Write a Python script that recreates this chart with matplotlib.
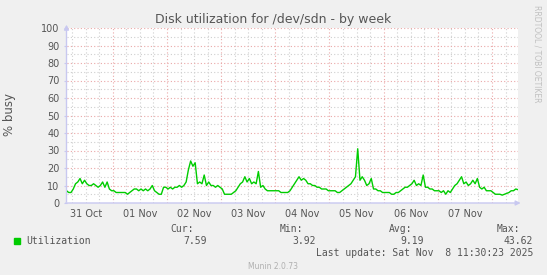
import matplotlib
matplotlib.use('Agg')
import matplotlib.pyplot as plt
import matplotlib.dates as mdates
import numpy as np
import pandas as pd

# hourly averages of disk utilization (%), 31 Oct 03:30 .. 08 Nov 11:30
oct31 = [7, 6, 6, 8, 11, 12, 14, 11, 13, 11, 10, 10, 11, 10, 9, 10, 12, 9, 12, 8, 7]
nov01 = [7, 6, 6, 6, 6, 6, 5, 6, 7, 8, 8, 7, 8, 7, 8, 7, 8, 10, 7, 6, 5, 5, 9, 9]
nov02 = [8, 9, 8, 9, 9, 10, 9, 10, 12, 19, 24, 21, 23, 11, 12, 11, 16, 10, 12, 10, 10, 9, 10, 9]
nov03 = [8, 5, 5, 5, 5, 6, 7, 9, 11, 12, 15, 12, 14, 11, 12, 11, 18, 9, 10, 8, 7, 7, 7, 7]
nov04 = [7, 7, 6, 6, 6, 6, 7, 9, 11, 13, 15, 13, 14, 13, 11, 11, 10, 10, 9, 9, 8, 8, 8, 7]
nov05 = [7, 7, 7, 6, 6, 7, 8, 9, 10, 11, 13, 15, 31, 13, 15, 13, 10, 11, 14, 8, 8, 7, 7, 6]
nov06 = [6, 6, 6, 5, 5, 6, 6, 7, 8, 9, 9, 10, 11, 13, 10, 11, 10, 16, 9, 9, 8, 8, 7, 7]
nov07 = [7, 6, 7, 5, 7, 6, 8, 10, 11, 13, 15, 11, 12, 10, 11, 13, 11, 14, 9, 8, 9, 7, 7, 7]
nov08 = [6, 5, 5, 5, 4.5, 5, 5.5, 6, 7, 7, 8, 7.6]

utilization = oct31 + nov01 + nov02 + nov03 + nov04 + nov05 + nov06 + nov07 + nov08
times = pd.date_range('2025-10-31 03:30', periods=len(utilization), freq='h')

stat_names = ['Cur:', 'Min:', 'Avg:', 'Max:']
stat_values = ['7.59', '3.92', '9.19', '43.62']

BG = '#f0f0f0'
TXT = '#555555'
AXC = '#c8c8f0'
GREEN = '#00cc00'

fig = plt.figure(figsize=(5.47, 2.75), dpi=100, facecolor=BG)
W, H = 547, 275
x0, x1, y0, y1 = 66.5, 518, 203, 28
ax = fig.add_axes([x0 / W, 1 - y0 / H, (x1 - x0) / W, (y0 - y1) / H])
ax.set_facecolor('white')

ax.set_xlim(times[0], times[-1])
ax.set_ylim(0, 100)

# grid: grey every 5 % / 6 hours, red every 10 % / day
for v in np.arange(5, 100, 10):
    ax.axhline(v, color='#cfcfcf', lw=0.8, ls=(0, (1, 2)), zorder=1)
for v in np.arange(10, 101, 10):
    ax.axhline(v, color='#eaa8a8', lw=0.8, ls=(0, (1, 2)), zorder=2)
for t in pd.date_range(times[0].ceil('6h'), times[-1], freq='6h'):
    if t.hour != 0:
        ax.axvline(t, color='#cfcfcf', lw=0.8, ls=(0, (1, 2)), zorder=1)
for t in pd.date_range(times[0].ceil('D'), times[-1], freq='D'):
    ax.axvline(t, color='#eaa8a8', lw=0.8, ls=(0, (1, 2)), zorder=2)

ax.plot(times, utilization, color=GREEN, lw=1, zorder=4)

for s in ax.spines.values():
    s.set_visible(False)

ax.set_yticks(np.arange(0, 101, 10))
ax.tick_params(axis='y', length=2, color=AXC, labelsize=7, labelcolor=TXT, pad=3)
ax.xaxis.set_major_locator(mdates.HourLocator(byhour=12))
ax.xaxis.set_major_formatter(mdates.DateFormatter('%d %b'))
ax.tick_params(axis='x', length=0, labelsize=7, labelcolor=TXT, pad=4)

# axis lines with arrow heads
ax.annotate('', xy=(0, 1.035), xytext=(0, -0.01), xycoords='axes fraction',
            arrowprops=dict(arrowstyle='-|>', color=AXC, lw=1, mutation_scale=7), annotation_clip=False)
ax.annotate('', xy=(1.012, 0), xytext=(-0.008, 0), xycoords='axes fraction',
            arrowprops=dict(arrowstyle='-|>', color=AXC, lw=1, mutation_scale=7), annotation_clip=False)

fig.text(273 / W, 1 - 19 / H, 'Disk utilization for /dev/sdn - by week', ha='center', va='center',
         fontsize=9, color=TXT)
fig.text(10 / W, 1 - 115 / H, '% busy', rotation=90, ha='center', va='center', fontsize=8.5, color=TXT)
fig.text(537 / W, 1 - 5 / H, 'RRDTOOL / TOBI OETIKER', rotation=270, ha='center', va='top',
         fontsize=5.5, color='#c0c0c0')

# legend block in monospace
mono = dict(family='DejaVu Sans Mono', fontsize=7, color=TXT, va='center')
fig.patches.append(plt.Rectangle((14 / W, 1 - 243.5 / H), 6 / W, 6 / H, color=GREEN,
                                 transform=fig.transFigure, figure=fig))
fig.text(26 / W, 1 - 240.5 / H, 'Utilization', ha='left', **mono)
name_right = [194, 303, 412, 520.5]
value_right = [206.5, 316, 424, 533]
for n, v, nr, vr in zip(stat_names, stat_values, name_right, value_right):
    fig.text(nr / W, 1 - 228.5 / H, n, ha='right', **mono)
    fig.text(vr / W, 1 - 240.5 / H, v, ha='right', **mono)
fig.text(533 / W, 1 - 253.5 / H, 'Last update: Sat Nov  8 11:30:23 2025', ha='right', **mono)
fig.text(273 / W, 1 - 266.5 / H, 'Munin 2.0.73', ha='center', va='center', fontsize=5.5, color='#b0b0b0')

fig.savefig('out.png', dpi=100, facecolor=BG)
